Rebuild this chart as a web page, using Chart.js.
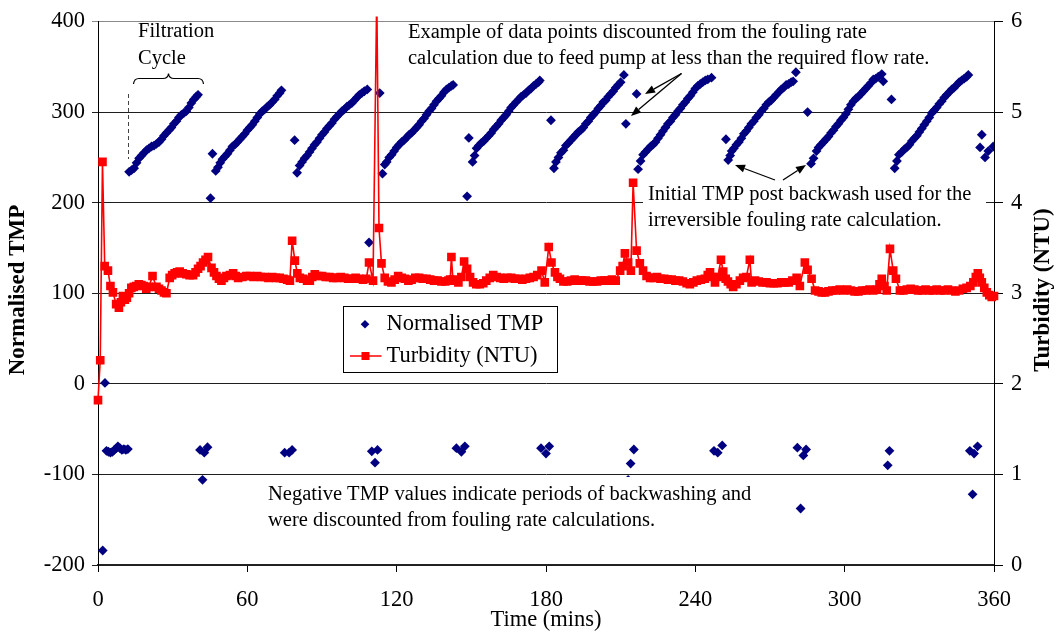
<!DOCTYPE html>
<html><head><meta charset="utf-8">
<script src="https://cdn.jsdelivr.net/npm/chart.js@4.4.1/dist/chart.umd.min.js"></script>
<style>html,body{margin:0;padding:0;background:#fff;}canvas{display:block;}</style>
</head><body>
<canvas id="c" width="1060" height="633"></canvas>
<script>
// ---------- DATA ----------
const tmpTime = [
 1.9,2.8,3.4,4.2,5.0,5.8,6.6,7.4,8.0,8.8,9.6,10.4,11.2,12.0,
 12.5,13.5,14.5,15.5,16.5,17.5,18.5,19.5,20.5,21.5,22.5,23.5,24.5,25.5,26.5,27.5,28.5,29.5,30.5,31.5,32.5,33.5,34.5,35.5,36.5,37.5,38.5,39.5,40.2,
 41,42,42.7,44,45.2,46,
 47.3,48.2,49.1,50,51,52,53,54,55,56,57,58,59,60,61,62,63,64,65,66,67,68,69,70,71,72,73,73.7,
 75,76.8,78,79,
 80,81,82,83,84,85,86,87,88,89,90,91,92,93,94,95,96,97,98,99,100,101,102,103,104,105,106,107,108.2,
 108.9,110,111.3,112.3,113.2,
 114.3,115.2,116,117,118,119,120,121,122,123,124,125,126,127,128,129,130,131,132,133,134,135,136,137,138,139,140,141,142,142.7,
 144,146,147.4,148.3,149,
 150.5,151.3,152.1,153,154,155,156,157,158,159,160,161,162,163,164,165,166,167,168,169,170,171,172,173,174,175,176,177,177.5,
 178,180,181.3,182,
 183.2,184,185,186,187,188,189,190,191,192,193,194,195,196,197,198,199,200,201,202,203,204,205,206,207,208,209,210,211.3,
 212.1,213,214,215.3,216.4,
 217,218,219,220,221,222,223,224,225,226,227,228,229,230,231,232,233,234,235,236,237,238,239,240,241,242,243,244,245,246.5,
 247.5,249,250.8,252.3,
 253.2,254,254.6,255.5,256.5,257.5,258.5,259.5,260.5,261.5,262.5,263.5,264.5,265.5,266.5,267.5,268.5,269.5,270.5,271.5,272.5,273.5,274.5,275.5,276.5,277.5,278.5,279.3,280.4,
 281,282.3,283.4,284.5,285.1,
 286.5,287.5,288.7,289.5,290.5,291.5,292.5,293.5,294.5,295.5,296.5,297.5,298.5,299.5,300.5,301.5,302.5,303.5,304.5,305.5,306.5,307.5,308.5,309.5,310.5,311.5,312.5,313.5,314.9,315.5,
 317.3,318,318.8,
 320.1,321,321.8,323,324,325,326,327,328,329,330,331,332,333,334,335,336,337,338,339,340,341,342,343,344,345,346,347,348,349,349.7,
 350.3,351.4,352,353.4,
 354.4,355.1,356.4,357.7,359.7
];
const tmpValue = [
 -184,1,-74,-75,-76,-75,-73,-71,-69,-71,-73,-72,-73,-72,
 234,236,238,244,249,252,255,258,260,262,263,265,267,270,274,277,280,283,287,290,294,297,299,301,305,310,314,317,319,
 -73,-106,-76,-70,205,254,
 235,239,244,248,251,254,258,262,264,267,270,273,276,280,283,286,290,294,298,301,303,306,308,311,314,318,321,324,
 -76,-76,-73,269,
 233,241,245,249,252,256,260,264,267,271,275,278,282,285,288,292,295,298,301,303,306,308,310,313,316,319,321,323,325,
 156,-74.5,-87,-73,321,
 232,242,245,250,253,257,261,264,267,269,272,275,277,280,283,286,290,293,297,301,304,308,312,315,318,322,325,327,329,330,
 -71,-75,-69,207,271.5,
 245,252,260,263,266,268,271,274,277,281,284,287,291,294,297,301,305,308,311,314,317,319,321,324,326,329,331,333,335,
 -71,-77,-69,291,
 238,245,250,255,258,263,266,269,272,275,278,280,283,287,290,294,297,300,304,307,311,313,317,320,323,327,330,333,341,
 287,-106,-88,-72.5,320,
 237,246,253,256,259,262,264,267,271,275,279,283,287,290,294,297,301,304,308,311,315,318,322,326,329,331,333,335,336,338,
 -74,-76,-68,270,
 247,252,257,260,264,267,271,276,279,283,287,290,294,297,301,304,308,311,313,316,319,322,325,327,330,331,333,334,344,
 -70.5,-137.6,-79,-72.5,300,
 243,249,257,261,264,267,270,273,277,280,284,287,291,294,298,303,308,312,315,317,320,323,326,329,332,336,337,339,342,334,
 -90,-74,314,
 238,246,253,256,259,261,264,268,271,274,278,282,286,290,294,299,302,305,309,312,316,319,322,325,327,330,333,335,337,339,341,
 -74,-122,-77,-69,
 261,275,250,257,262
];
const turbTime = [
 0,0.9,1.8,2.7,4.0,5.0,6.0,7.3,8.4,9.2,10.0,10.8,11.6,12.5,13.4,14.4,15.4,16.4,17.4,18.4,19.4,20.4,21.9,23.5,24.5,25.5,26.5,27.5,
 28.8,29.8,30.8,31.8,32.8,34.0,35.5,36.8,38.2,39.2,40.2,41.2,42.2,43.2,44.2,45.6,46.6,47.6,48.6,49.6,50.6,51.6,53.0,54.3,55.3,56.3,
 58.0,59.6,61.0,62.5,64.0,65.5,67.0,68.5,70.0,71.5,73.0,74.5,76.0,77.1,78.0,79.1,80.1,81.1,82.5,84.0,85.1,86.1,87.1,88.5,90.0,91.5,
 93.0,94.5,96.0,97.5,99.0,100.5,102.0,103.5,105.0,106.5,107.8,108.9,110.5,112.0,112.9,113.9,115.2,116.5,117.9,119.2,120.6,122.0,
 123.3,124.7,126.0,127.5,129.0,130.5,132.0,133.5,135.0,136.5,138.0,139.5,140.8,141.5,142.0,142.6,143.5,144.8,146.0,147.1,148.3,149.5,
 150.7,152.0,153.4,154.8,156.0,157.4,158.8,160.2,161.6,163.0,164.5,166.0,167.5,169.0,170.5,172.0,173.5,175.0,176.5,178.2,179.5,181.1,
 182.2,183.6,184.6,185.6,187.0,188.5,190.0,191.5,193.0,194.5,196.0,197.5,199.0,200.5,202.0,203.5,205.0,206.5,208.0,209.8,210.8,211.7,
 213.0,214.1,215.0,216.4,217.7,219.0,220.4,221.8,223.2,224.6,226.0,227.5,229.0,230.5,232.0,233.5,235.0,236.5,237.8,239.2,240.6,242.2,
 243.8,245.0,245.9,246.9,247.9,249.0,250.3,251.2,252.2,253.1,254.2,255.2,256.5,257.9,259.2,260.5,261.9,262.6,264.0,265.5,267.0,268.6,
 270.0,271.5,273.0,274.5,276.0,277.5,279.0,280.7,282.0,284.0,285.1,286.7,288.1,289.5,290.8,292.1,293.5,295.0,296.5,298.0,299.5,301.0,
 302.5,304.0,305.5,307.0,308.5,310.0,311.5,313.0,314.0,314.9,316.0,316.9,318.2,319.5,320.6,322.2,323.6,325.0,326.5,328.0,329.5,331.0,
 332.5,334.0,335.5,337.0,338.5,340.0,341.5,343.0,344.5,346.0,347.5,349.0,350.5,351.7,352.7,353.5,354.3,355.1,356.1,357.1,358.1,359.1,360.0
];
const turbValue = [
 1.82,2.26,4.45,3.30,3.25,3.08,3.01,2.88,2.84,2.90,2.97,2.93,2.95,3.00,3.06,3.07,3.08,3.10,3.09,3.08,3.05,3.07,3.19,3.07,3.05,3.03,3.01,3.00,
 3.17,3.20,3.22,3.23,3.24,3.22,3.21,3.20,3.20,3.23,3.27,3.30,3.34,3.37,3.40,3.28,3.23,3.19,3.16,3.14,3.17,3.19,3.20,3.22,3.19,3.17,
 3.18,3.19,3.19,3.18,3.19,3.18,3.18,3.17,3.18,3.17,3.17,3.16,3.15,3.14,3.58,3.36,3.22,3.17,3.16,3.14,3.14,3.18,3.21,3.19,3.19,3.18,
 3.18,3.17,3.17,3.18,3.17,3.16,3.16,3.17,3.16,3.15,3.16,3.34,3.14,6.30,3.72,3.33,3.17,3.13,3.12,3.15,3.19,3.17,
 3.16,3.14,3.15,3.17,3.17,3.16,3.16,3.15,3.14,3.14,3.13,3.13,3.14,3.15,3.40,3.15,3.14,3.12,3.18,3.35,3.27,3.18,
 3.12,3.10,3.10,3.11,3.14,3.17,3.20,3.18,3.17,3.16,3.17,3.17,3.16,3.16,3.15,3.16,3.17,3.18,3.20,3.25,3.12,3.51,
 3.34,3.23,3.18,3.16,3.13,3.13,3.14,3.15,3.14,3.14,3.14,3.13,3.13,3.13,3.14,3.14,3.14,3.15,3.14,3.25,3.30,3.44,
 3.34,3.25,4.22,3.47,3.33,3.25,3.19,3.17,3.17,3.18,3.16,3.16,3.15,3.15,3.14,3.14,3.13,3.11,3.10,3.12,3.14,3.15,
 3.16,3.20,3.23,3.18,3.12,3.18,3.37,3.24,3.16,3.13,3.10,3.07,3.10,3.14,3.17,3.18,3.37,3.12,3.14,3.13,3.12,3.12,
 3.11,3.11,3.11,3.12,3.12,3.12,3.14,3.17,3.08,3.34,3.26,3.16,3.03,3.02,3.01,3.01,3.02,3.03,3.03,3.04,3.03,3.04,
 3.03,3.02,3.02,3.03,3.03,3.04,3.03,3.04,3.10,3.16,3.08,3.03,3.49,3.25,3.16,3.03,3.03,3.04,3.05,3.04,3.03,3.03,
 3.04,3.03,3.03,3.04,3.03,3.03,3.04,3.03,3.02,3.03,3.05,3.06,3.08,3.12,3.18,3.22,3.17,3.12,3.06,3.01,2.98,2.96,2.97
];
const xTicks = [0, 60, 120, 180, 240, 300, 360];
const tmpTicks = [-200, -100, 0, 100, 200, 300, 400];
const turbTicks = [0, 1, 2, 3, 4, 5, 6];
const seriesNames = ['Normalised TMP', 'Turbidity (NTU)'];
const axisTitles = { x: 'Time (mins)', y: 'Normalised TMP', y2: 'Turbidity (NTU)' };
const noteFiltration = ['Filtration', 'Cycle'];
const notePump = ['Example of data points discounted from the fouling rate', 'calculation due to feed pump at less than the required flow rate.'];
const noteInitial = ['Initial TMP post backwash used for the', 'irreversible fouling rate calculation.'];
const noteNegative = ['Negative TMP values indicate periods of backwashing and', 'were discounted from fouling rate calculations.'];

// ---------- CHART ----------
const SERIF = "'Liberation Serif', 'Times New Roman', serif";
Chart.defaults.font.family = SERIF;
Chart.defaults.color = '#000';
const NAVY = '#000080', RED = '#ff0000';

const tmpPoints = tmpTime.map((t, i) => ({ x: t, y: tmpValue[i] }));
const turbPoints = turbTime.map((t, i) => ({ x: t, y: turbValue[i] }));

function setTicks(arr) { return s => { s.ticks = arr.map(v => ({ value: v })); }; }

const overlay = {
  id: 'overlay',
  afterDraw(chart) {
    const ctx = chart.ctx;
    ctx.save();
    // white boxes behind notes
    ctx.fillStyle = '#fff';
    ctx.fillRect(643, 183, 343, 51);
    ctx.fillRect(263, 477, 493, 58);

    ctx.fillStyle = '#000';
    ctx.textBaseline = 'middle';
    ctx.textAlign = 'left';
    ctx.font = '20.5px ' + SERIF;
    const lines = (arr, x, y0, dy) => arr.forEach((s, i) => ctx.fillText(s, x, y0 + i * dy));
    lines(noteFiltration, 138, 32, 26.3);
    lines(notePump, 408, 32.5, 26);
    lines(noteInitial, 648, 194.5, 26.5);
    lines(noteNegative, 268, 494.7, 25.5);

    // brace
    ctx.strokeStyle = '#000';
    ctx.lineWidth = 1.2;
    ctx.beginPath();
    ctx.moveTo(133.5, 84);
    ctx.quadraticCurveTo(134, 78.5, 139, 78.5);
    ctx.lineTo(163, 78.5);
    ctx.quadraticCurveTo(168, 78.5, 168.5, 73.5);
    ctx.quadraticCurveTo(169, 78.5, 174, 78.5);
    ctx.lineTo(198, 78.5);
    ctx.quadraticCurveTo(203, 78.5, 203.5, 84);
    ctx.stroke();
    // dashed guide
    ctx.strokeStyle = '#444';
    ctx.lineWidth = 1;
    ctx.setLineDash([4, 3]);
    ctx.beginPath();
    ctx.moveTo(128.5, 94); ctx.lineTo(128.5, 159);
    ctx.stroke();
    ctx.setLineDash([]);

    // arrows
    const arrow = (x1, y1, x2, y2) => {
      ctx.strokeStyle = '#000'; ctx.fillStyle = '#000'; ctx.lineWidth = 1.3;
      const a = Math.atan2(y2 - y1, x2 - x1), L = 10, W = 4;
      const bx = x2 - L * Math.cos(a), by = y2 - L * Math.sin(a);
      ctx.beginPath(); ctx.moveTo(x1, y1); ctx.lineTo(bx, by); ctx.stroke();
      ctx.beginPath();
      ctx.moveTo(x2, y2);
      ctx.lineTo(bx + W * Math.sin(a), by - W * Math.cos(a));
      ctx.lineTo(bx - W * Math.sin(a), by + W * Math.cos(a));
      ctx.closePath(); ctx.fill();
    };
    arrow(681.5, 73.5, 645, 94);
    arrow(681.5, 73.5, 631, 116);
    arrow(775, 180, 735, 165);
    arrow(783, 180, 806, 165);

    // legend
    ctx.fillStyle = '#fff';
    ctx.fillRect(343.5, 306.5, 214, 66);
    ctx.strokeStyle = '#000'; ctx.lineWidth = 1;
    ctx.strokeRect(343.5, 306.5, 214, 66);
    const ds = chart.data.datasets;
    // diamond
    ctx.fillStyle = ds[0].backgroundColor;
    ctx.beginPath();
    ctx.moveTo(365, 320); ctx.lineTo(369.3, 324.3); ctx.lineTo(365, 328.6); ctx.lineTo(360.7, 324.3); ctx.closePath(); ctx.fill();
    // line + square
    ctx.strokeStyle = ds[1].borderColor; ctx.lineWidth = 1.5;
    ctx.beginPath(); ctx.moveTo(350, 356); ctx.lineTo(381.5, 356); ctx.stroke();
    ctx.fillStyle = ds[1].pointBackgroundColor;
    ctx.fillRect(361.5, 352, 8, 8);
    ctx.fillStyle = '#000';
    ctx.font = '22.5px ' + SERIF;
    ctx.fillText(ds[0].label, 386.5, 324.5);
    ctx.fillText(ds[1].label, 386.5, 356.5);

    // axis titles
    ctx.textAlign = 'center';
    ctx.font = '22.5px ' + SERIF;
    const ca = chart.chartArea;
    ctx.fillText(axisTitles.x, (ca.left + ca.right) / 2, 620);
    ctx.font = 'bold 23px ' + SERIF;
    ctx.save(); ctx.translate(18, 290); ctx.rotate(-Math.PI / 2); ctx.fillText(axisTitles.y, 0, 0); ctx.restore();
    ctx.save(); ctx.translate(1043, 290); ctx.rotate(-Math.PI / 2); ctx.fillText(axisTitles.y2, 0, 0); ctx.restore();
    ctx.restore();
  }
};

const tickFont = { family: SERIF, size: 22.5 };

new Chart(document.getElementById('c'), {
  type: 'scatter',
  data: {
    datasets: [
      {
        label: seriesNames[0], data: tmpPoints, yAxisID: 'y', order: 2,
        pointStyle: 'rectRot', pointRadius: 4.9, pointHoverRadius: 4.9,
        backgroundColor: NAVY, borderColor: NAVY, pointBorderWidth: 0, showLine: false
      },
      {
        label: seriesNames[1], data: turbPoints, yAxisID: 'y2', order: 1,
        showLine: true, tension: 0, borderColor: RED, borderWidth: 1.6,
        pointStyle: 'rect', pointRadius: 6.1, pointHoverRadius: 6.1,
        pointBackgroundColor: RED, pointBorderWidth: 0, backgroundColor: RED,
        clip: { left: 8, right: 8, top: 5, bottom: 8 }
      }
    ]
  },
  options: {
    responsive: false, animation: false, devicePixelRatio: 1,
    layout: { padding: { top: 20, left: 0, right: 0, bottom: 0 } },
    plugins: { legend: { display: false }, tooltip: { enabled: false } },
    events: [],
    scales: {
      x: {
        type: 'linear', position: 'bottom', min: 0, max: 360,
        afterBuildTicks: setTicks(xTicks),
        afterFit: s => { s.height = 68; },
        ticks: { font: tickFont, color: '#000', padding: 15, maxRotation: 0, autoSkip: false },
        grid: { drawOnChartArea: false, drawTicks: true, tickLength: 7, color: '#000', lineWidth: 1 },
        border: { display: true, color: '#222', width: 1.5 }
      },
      y: {
        type: 'linear', position: 'left', min: -200, max: 400,
        afterBuildTicks: setTicks(tmpTicks),
        afterFit: s => { s.width = 98; },
        ticks: { font: tickFont, color: '#000', padding: 7 },
        grid: {
          tickLength: 6, lineWidth: 1,
          color: c => (c.tick && c.tick.value === 400) ? '#8a8a8a' : '#1e1e1e'
        },
        border: { display: true, color: '#000', width: 1 }
      },
      y2: {
        type: 'linear', position: 'right', min: 0, max: 6,
        afterBuildTicks: setTicks(turbTicks),
        afterFit: s => { s.width = 66; },
        ticks: { font: tickFont, color: '#000', padding: 8 },
        grid: { drawOnChartArea: false, tickLength: 9, color: '#000', lineWidth: 1 },
        border: { display: true, color: '#000', width: 1 }
      }
    }
  },
  plugins: [overlay]
});
</script>
</body></html>
